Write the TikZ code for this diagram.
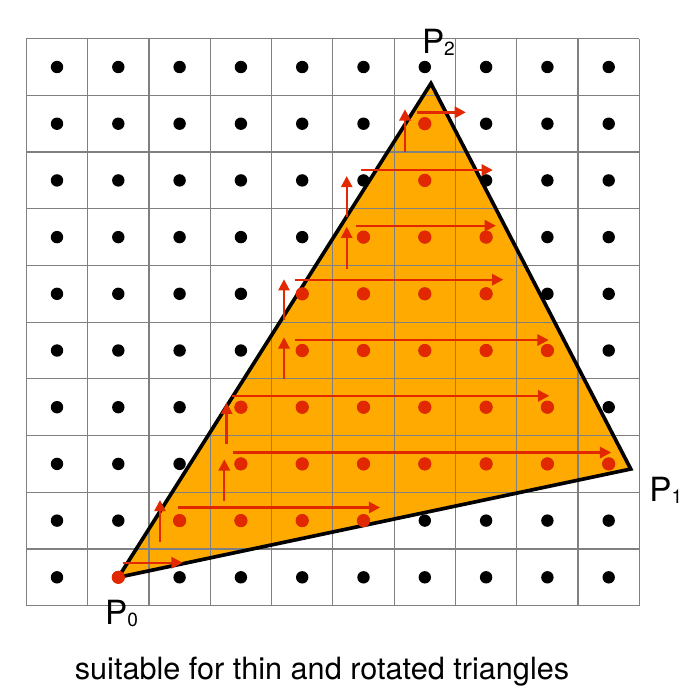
\documentclass[tikz,border=0pt]{standalone}
\usepackage{fontspec}
\setmainfont{TeX Gyre Heros}
\usepackage{xcolor}
\usetikzlibrary{arrows.meta}
\definecolor{tri}{RGB}{255,170,0}
\definecolor{scan}{RGB}{226,40,0}
\newcommand{\vlabel}[1]{{\fontsize{23.7}{24}\selectfont P}{\fontsize{13.6}{14}\selectfont\raisebox{-1.5pt}{#1}}}

\begin{document}
\begin{tikzpicture}[x=1.5325cm, y=1.4175cm, line cap=round, line join=round]
	\useasboundingbox (-0.930,-2.129) rectangle (10.473,10.182);
	% ---- ba dinh tam giac ----
	\coordinate (P0) at (1,0);
	\coordinate (P1) at (9.36,1.91);
	\coordinate (P2) at (6.10,8.71);
	
	\tikzset{
		scanline/.style={draw=scan, line width=1.7pt, line cap=butt,
			-{Triangle[length=0.28cm, width=0.28cm]}},
		lbl/.style={anchor=base west, inner sep=0pt}
	}
	
	% ---- mien tam giac + luoi ----
	\fill[tri] (P0) -- (P1) -- (P2) -- cycle;
	\foreach \k in {0,...,10}{
		\draw[gray, line width=0.9pt, line cap=butt] (\k-0.5,-0.5) -- (\k-0.5,9.5);
		\draw[gray, line width=0.9pt, line cap=butt] (-0.5,\k-0.5) -- (9.5,\k-0.5);
	}
	
	% ---- diem mau ----
	\foreach \i in {0,...,9}
		\foreach \j in {0,...,9}
			\fill (\i,\j) circle[radius=0.155cm];
	
	\draw[line width=2.6pt, line join=miter] (P0) -- (P1) -- (P2) -- cycle;
	
	% ---- diem nam trong tam giac ----
	\foreach \j/\a/\b in {0/1/1, 1/2/5, 2/3/9, 3/3/8, 4/4/8, 5/4/7, 6/5/7, 7/6/6, 8/6/6}
		\foreach \i in {\a,...,\b}
			\fill[scan] (\i,\j) circle[radius=0.165cm];
	
	% ---- thu tu duyet ----
	\foreach \y/\xa/\xb in {0.257/1.07/2.05, 1.231/1.97/5.27, 2.201/2.87/9.04,
		3.201/2.85/8.03, 4.185/3.88/8.02, 5.249/3.88/7.28, 6.201/4.88/7.16,
		7.183/4.96/7.11, 8.201/5.87/6.67}
		\draw[scanline] (\xa,\y) -- (\xb,\y);
	\foreach \x/\ya/\yb in {1.680/0.628/1.363, 2.729/1.351/2.081, 2.768/2.351/3.079,
		3.703/3.492/4.233, 3.703/4.538/5.256, 4.726/5.432/6.183,
		4.726/6.349/7.077, 5.677/7.506/8.254}
		\draw[scanline] (\x,\ya) -- (\x,\yb);
	
	% ---- nhan ----
	\node[lbl] (l0) at (0.78,-0.824) {\vlabel{0}};
	\node[lbl] (l1) at (9.66,1.333) {\vlabel{1}};
	\node[lbl] (l2) at (5.95,9.242) {\vlabel{2}};
	\node[anchor=base, inner sep=0pt] (cap) at (4.323,-1.811)
		{\fontsize{21.8}{24}\selectfont suitable for thin and rotated triangles};
\end{tikzpicture}
\end{document}
